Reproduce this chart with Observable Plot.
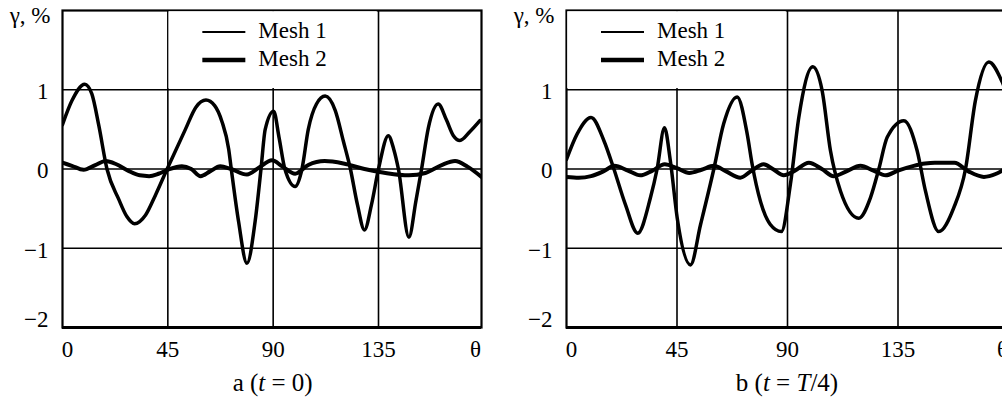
<!DOCTYPE html>
<html><head><meta charset="utf-8">
<script src="https://cdn.jsdelivr.net/npm/d3@7"></script>
<script src="https://cdn.jsdelivr.net/npm/@observablehq/plot@0.6"></script>
<style>
html,body{margin:0;padding:0;background:#fff;overflow:hidden}
#wrap{position:relative;width:1002px;height:403px;overflow:hidden;font-family:"Liberation Serif",serif;background:#fff}
.panel{position:absolute;top:0}
.panel svg{max-width:none !important}
.cap{position:absolute;font-family:"Liberation Serif",serif;font-size:25px;line-height:25px;white-space:nowrap;transform:translateX(-50%);color:#000}
svg text{font-family:"Liberation Serif",serif}
</style></head><body>
<div id="wrap"><div id="pa" class="panel" style="left:0px;width:500px"></div><div id="pb" class="panel" style="left:502px;width:516px"></div></div>
<script>
// ---- Data ----
// Panel a (t = 0)
const thetaA1 = [0,4,9.5,12.5,15.5,19,24,27.5,30.8,35.5,39.7,44.7,52.5,57,61.3,65,68.1,71,72.1,75.2,78.8,82.3,84.8,86.6,90.2,92.5,95,99.4,102.3,105,108.5,112.2,116.5,120,123,126,129,132,135,139.2,141.5,143.5,148,151,153.4,156.3,160.5,164,167,169.8,174,178.3];
const gammaA1 = [0.56,0.86,1.07,0.95,0.55,0,-0.38,-0.6,-0.69,-0.58,-0.33,0,0.5,0.78,0.87,0.8,0.6,0.25,0,-0.66,-1.19,-0.66,0,0.5,0.73,0.4,0,-0.22,0,0.5,0.82,0.92,0.74,0.35,0,-0.45,-0.77,-0.45,0,0.42,0.25,0,-0.86,-0.4,0,0.52,0.82,0.62,0.42,0.36,0.47,0.61];
const thetaA2 = [0,4,9,14,18.4,23,28,33,37,41,45,51,55,59,63,67.4,72,78.8,84,89.5,94,99.4,105,112,120,129,138,148,155,162,167.7,173,179];
const gammaA2 = [0.08,0.04,-0.01,0.05,0.1,0.06,-0.02,-0.08,-0.09,-0.06,-0.01,0.035,0,-0.09,-0.03,0.035,0,-0.07,0.02,0.11,0.03,-0.06,0.05,0.1,0.07,0,-0.05,-0.08,-0.05,0.05,0.1,0.03,-0.1];
// Panel b (t = T/4)
const thetaB1 = [0,4.3,10,15.2,19.3,24,29,34.2,36.9,39.9,42.3,45.1,50.5,54.6,60,64,69.5,73.6,75.6,79,83,87.5,91.2,94.6,100.3,104.1,107.5,111.6,119,123.8,127.2,130.6,137.4,142.8,146.2,151.6,157.7,162.5,166.5,172,177.4,180];
const gammaB1 = [0.12,0.44,0.65,0.36,0,-0.45,-0.81,-0.36,0,0.52,0.1,-0.62,-1.21,-0.7,0,0.57,0.91,0.44,0.06,-0.41,-0.7,-0.79,-0.19,0.65,1.29,0.99,0.23,-0.28,-0.62,-0.36,0,0.4,0.61,0.23,-0.28,-0.79,-0.49,0,0.86,1.35,1.1,0.9];
const thetaB2 = [0,5,10,15,19.5,25,30,35,40,45,50,55,60,65,70.8,75,80.3,84,88.5,93,98.7,104,108.8,114,119.7,125,130,135,141.4,146,150,155,158,163.7,170,175,180];
const gammaB2 = [-0.1,-0.11,-0.09,-0.03,0.04,-0.02,-0.08,-0.02,0.06,0.01,-0.05,-0.01,0.04,-0.03,-0.11,-0.03,0.06,0,-0.08,-0.02,0.08,0,-0.09,-0.03,0.04,-0.02,-0.08,-0.02,0.04,0.07,0.08,0.08,0.08,-0.03,-0.1,-0.06,0.03];

const xTicks = [45, 90, 135];
const xZeroTick = [0];
const yTicks = [-1, 0, 1];
const yBottomTick = [-2];
const gridX = [45, 90, 135];
const gridY = [-1, 0, 1];
const seriesNames = ["Mesh 1", "Mesh 2"];
const yLabel = "γ, %";
const xLabel = "θ";
const captionsHTML = ["a (<i>t</i> = 0)", "b (<i>t</i> = <i>T</i>/4)"];

const zip = (t, g) => t.map((v, i) => ({theta: v, gamma: g[i]}));
const fmt = d3.format("d");
const FONT = '"Liberation Serif", serif';
const FS = 23;

function makePanel(cfg) {
  const d1 = zip(cfg.t1, cfg.g1), d2 = zip(cfg.t2, cfg.g2);
  const svg = Plot.plot({
    width: cfg.width, height: 370,
    marginLeft: cfg.marginLeft, marginRight: cfg.marginRight, marginTop: 10, marginBottom: 43,
    style: {fontFamily: FONT, fontSize: FS + "px", background: "white", color: "black", overflow: "visible", maxWidth: "none"},
    x: {domain: cfg.xDomain, label: null},
    y: {domain: [-2, 2], label: null},
    marks: [
      Plot.ruleY(gridY, {stroke: "black", strokeWidth: 1.6}),
      Plot.ruleX(gridX, {stroke: "black", strokeWidth: 1.6}),
      Plot.frame({stroke: "black", strokeWidth: 2.2}),
      Plot.ruleY(yBottomTick, {stroke: "black", strokeWidth: 2.8}),
      Plot.line(d1, {x: "theta", y: "gamma", curve: "monotone-x", stroke: "black", strokeWidth: 3.5, clip: true}),
      Plot.line(d2, {x: "theta", y: "gamma", curve: "monotone-x", stroke: "black", strokeWidth: 4, clip: true}),
      Plot.axisY(yTicks, {tickSize: 0, tickPadding: 14, dy: 2, fontSize: FS, tickFormat: fmt}),
      Plot.text(yBottomTick, {y: d => d, text: d => fmt(d), frameAnchor: "left", textAnchor: "end", dx: -14, dy: -8, fontSize: FS}),
      Plot.axisX(xTicks, {tickSize: 0, tickPadding: 13, fontSize: FS, tickFormat: fmt}),
      Plot.text(xZeroTick, {x: d => d, text: d => fmt(d), frameAnchor: "bottom", lineAnchor: "top", dy: 13, dx: 5, fontSize: FS}),
      Plot.text([xLabel], {text: d => d, frameAnchor: "bottom-right", lineAnchor: "top", textAnchor: "middle", dy: 13, dx: -6, fontSize: FS}),
      Plot.text([yLabel], {text: d => d, frameAnchor: "top-left", lineAnchor: "bottom", textAnchor: "end", dx: -12, dy: 12, fontSize: FS})
    ]
  });
  // legend box drawn over the grid, placed through the plot's own scales
  const sx = svg.scale("x"), sy = svg.scale("y");
  const x0 = sx.apply(cfg.legendFrom), x1 = sx.apply(cfg.legendTo), y0 = sy.apply(2), y1 = sy.apply(1);
  const g = d3.select(svg).append("g").attr("text-anchor", "start");
  g.append("rect").attr("x", x0 + 1.2).attr("y", y0 + 1.2).attr("width", x1 - x0 - 2.4).attr("height", y1 - y0 - 2.4).attr("fill", "white");
  seriesNames.forEach((name, i) => {
    const yy = y0 + 22 + i * 28;
    g.append("line").attr("x1", x0 + 35).attr("x2", x0 + 78).attr("y1", yy).attr("y2", yy)
      .attr("stroke", "black").attr("stroke-width", i ? 4.5 : 2);
    g.append("text").attr("x", x0 + 91).attr("y", yy + 6).attr("font-size", FS)
      .attr("font-family", FONT).attr("text-anchor", "start").attr("fill", "black").text(name);
  });
  document.getElementById(cfg.el).appendChild(svg);
  const cap = document.createElement("div");
  cap.className = "cap";
  cap.innerHTML = cfg.caption;
  cap.style.left = (cfg.left + sx.apply(90)) + "px";
  cap.style.top = "370px";
  document.getElementById("wrap").appendChild(cap);
}

makePanel({el: "pa", left: 0, t1: thetaA1, g1: gammaA1, t2: thetaA2, g2: gammaA2, xDomain: [0, 179], width: 500, marginLeft: 62, marginRight: 19, legendFrom: 45, legendTo: 135, caption: captionsHTML[0]});
makePanel({el: "pb", left: 502, t1: thetaB1, g1: gammaB1, t2: thetaB2, g2: gammaB2, xDomain: [0, 180], width: 516, marginLeft: 64, marginRight: 10, legendFrom: 0, legendTo: 90, caption: captionsHTML[1]});
</script>
</body></html>
